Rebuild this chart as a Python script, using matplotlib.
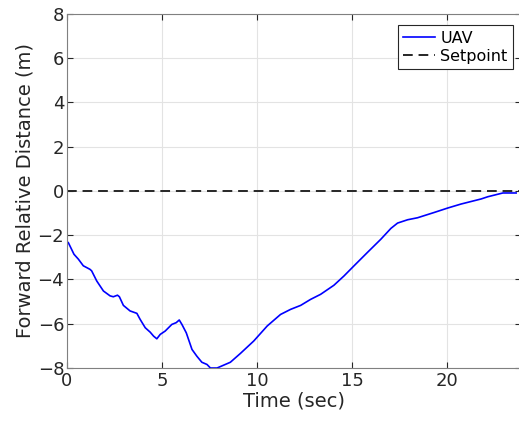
import matplotlib

matplotlib.use("Agg")

import matplotlib.pyplot as plt

# UAV forward relative distance
time_s = [0.0, 0.07, 0.37, 0.6, 0.86, 1.21, 1.3, 1.57, 1.92, 2.27, 2.44, 2.66,
          2.76, 2.97, 3.32, 3.68, 3.85, 4.12, 4.38, 4.56, 4.73, 4.91, 5.17,
          5.52, 5.75, 5.91, 6.05, 6.28, 6.58, 6.84, 7.1, 7.37, 7.55, 7.9,
          8.6, 9.13, 9.83, 10.54, 11.24, 11.77, 12.3, 12.82, 13.35, 14.05,
          14.58, 15.11, 15.81, 16.52, 17.05, 17.4, 17.93, 18.45, 19.33,
          20.04, 20.74, 21.8, 22.15, 22.94, 23.64]
distance_m = [-2.3, -2.33, -2.86, -3.08, -3.38, -3.54, -3.61, -4.07, -4.52,
              -4.74, -4.78, -4.71, -4.78, -5.17, -5.42, -5.53, -5.80, -6.18,
              -6.38, -6.56, -6.68, -6.48, -6.33, -6.03, -5.95, -5.83, -6.03,
              -6.41, -7.16, -7.47, -7.74, -7.84, -8.0, -8.0, -7.74, -7.34,
              -6.78, -6.10, -5.58, -5.35, -5.17, -4.9, -4.67, -4.26, -3.84,
              -3.38, -2.78, -2.18, -1.69, -1.45, -1.30, -1.21, -0.97, -0.77,
              -0.59, -0.36, -0.26, -0.09, -0.09]
setpoint_m = 0.0

x_ticks = [0, 5, 10, 15, 20]
y_ticks = [-8, -6, -4, -2, 0, 2, 4, 6, 8]

plt.rcParams["font.family"] = ["DejaVu Sans"]

fig = plt.figure(figsize=(5.19, 4.23), dpi=100)
# right edge sits just past the image, as in the cropped reference
ax = fig.add_axes([0.129, 0.13, 0.875, 0.837])

ax.plot(time_s, distance_m, color="#0000ff", linewidth=1.2, label="UAV")
ax.axhline(setpoint_m, color="#262626", linestyle=(0, (5, 3)), linewidth=1.4,
           label="Setpoint")

ax.set_xlim(0, 23.9)
ax.set_ylim(-8, 8)
ax.set_xticks(x_ticks)
ax.set_yticks(y_ticks)
ax.tick_params(direction="in", length=4, labelsize=13, colors="#262626",
               top=True, right=True, pad=2)
ax.tick_params(axis="x", pad=3)
ax.grid(True, color="#e3e3e3", linewidth=0.8)
ax.set_axisbelow(True)

for spine in ax.spines.values():
    spine.set_color("#808080")
    spine.set_linewidth(0.8)

ax.set_xlabel("Time (sec)", fontsize=14, color="#262626", labelpad=1)
ax.set_ylabel("Forward Relative Distance (m)", fontsize=14, color="#262626",
              labelpad=2)

leg = ax.legend(loc="upper right", fontsize=11.5, fancybox=False,
                framealpha=1, edgecolor="#262626", handlelength=2.0,
                handletextpad=0.3, borderpad=0.35, labelspacing=0.2,
                borderaxespad=0, bbox_to_anchor=(513 / 519, 1 - 25 / 423),
                bbox_transform=fig.transFigure)
leg.get_frame().set_linewidth(0.8)

fig.savefig("out.png", dpi=100)
plt.close(fig)
